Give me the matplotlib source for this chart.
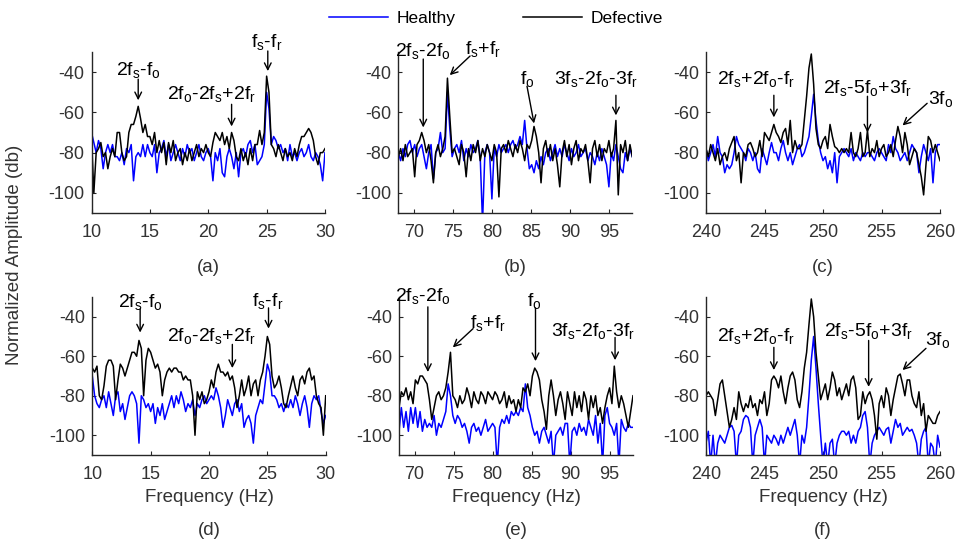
import numpy as np
import matplotlib
matplotlib.use("Agg")
import matplotlib.pyplot as plt
from matplotlib.lines import Line2D

plt.rcParams['font.family'] = ['Liberation Sans', 'DejaVu Sans']
plt.rcParams['mathtext.default'] = 'regular'
plt.rcParams['axes.unicode_minus'] = False

# frequency ranges of the six panels (Hz)
ranges = [(10, 30), (68, 98), (240, 260), (10, 30), (68, 98), (240, 260)]
xticks = [[10, 15, 20, 25, 30], [70, 75, 80, 85, 90, 95], [240, 245, 250, 255, 260]] * 2
panel_names = ['(a)', '(b)', '(c)', '(d)', '(e)', '(f)']

# normalized amplitude (db), evenly spaced over each range
a_healthy = [-70, -75, -80, -74, -78, -88, -80, -76, -80, -76,
             -82, -82, -84, -80, -86, -78, -80, -76, -94, -82,
             -80, -82, -76, -82, -76, -80, -82, -76, -90, -80,
             -78, -74, -82, -76, -84, -80, -76, -80, -84, -78,
             -82, -76, -80, -78, -84, -80, -76, -82, -84, -80,
             -78, -82, -94, -80, -84, -78, -90, -92, -82, -78,
             -82, -88, -80, -92, -80, -78, -82, -76, -74, -80,
             -76, -86, -84, -82, -76, -50, -58, -76, -72, -74,
             -78, -76, -80, -78, -84, -76, -82, -80, -84, -80,
             -78, -82, -80, -76, -82, -84, -80, -82, -86, -94,
             -80]
a_defective = [-72, -100, -80, -78, -75, -82, -80, -88, -82, -78,
               -82, -70, -70, -80, -84, -82, -70, -66, -66, -62,
               -57, -63, -70, -66, -72, -72, -76, -70, -80, -74,
               -80, -75, -86, -75, -80, -74, -84, -80, -78, -86,
               -80, -84, -78, -84, -80, -76, -82, -78, -80, -76,
               -80, -82, -75, -70, -72, -74, -70, -76, -72, -78,
               -70, -74, -82, -84, -78, -84, -80, -86, -78, -84,
               -76, -76, -69, -76, -70, -42, -50, -76, -78, -82,
               -76, -80, -84, -78, -82, -80, -84, -78, -82, -76,
               -72, -72, -70, -68, -70, -74, -82, -86, -80, -80,
               -78]

b_healthy = [-80, -84, -78, -82, -76, -74, -80, -76, -82, -78,
             -76, -82, -88, -80, -76, -93, -80, -78, -70, -80,
             -78, -50, -68, -82, -78, -76, -80, -74, -84, -78,
             -82, -76, -80, -78, -74, -82, -115, -80, -76, -80,
             -103, -78, -82, -76, -80, -78, -76, -80, -76, -74,
             -78, -76, -72, -76, -64, -78, -88, -86, -90, -84,
             -88, -82, -86, -80, -78, -84, -80, -76, -82, -78,
             -82, -76, -80, -84, -78, -82, -80, -76, -82, -80,
             -78, -84, -80, -82, -86, -80, -84, -78, -82, -86,
             -97, -80, -84, -76, -82, -88, -90, -80, -84, -78,
             -82]
b_defective = [-82, -78, -84, -76, -82, -80, -78, -92, -76, -74,
               -70, -74, -80, -76, -84, -95, -80, -76, -82, -78,
               -72, -43, -62, -80, -78, -82, -86, -76, -80, -92,
               -78, -84, -76, -80, -74, -84, -78, -82, -76, -80,
               -84, -76, -80, -102, -78, -76, -80, -74, -78, -82,
               -76, -80, -74, -78, -84, -76, -78, -74, -67, -72,
               -80, -95, -78, -74, -82, -76, -84, -78, -86, -97,
               -80, -74, -82, -76, -86, -78, -74, -84, -78, -80,
               -76, -84, -95, -78, -74, -82, -76, -84, -78, -80,
               -74, -82, -78, -64, -101, -76, -80, -74, -84, -76,
               -82]

c_healthy = [-78, -84, -80, -76, -82, -72, -80, -82, -90, -86,
             -88, -86, -80, -72, -76, -78, -80, -84, -78, -80,
             -84, -80, -88, -90, -78, -82, -86, -80, -75, -80,
             -80, -84, -78, -74, -80, -84, -80, -86, -82, -78,
             -76, -82, -80, -76, -72, -62, -51, -64, -74, -80,
             -84, -82, -88, -84, -90, -80, -95, -82, -80, -78,
             -80, -82, -78, -84, -80, -82, -84, -80, -82, -80,
             -80, -82, -84, -80, -78, -80, -82, -84, -76, -80,
             -72, -78, -80, -84, -82, -80, -84, -80, -76, -78,
             -80, -90, -82, -76, -80, -84, -78, -95, -80, -76,
             -76]
c_defective = [-78, -82, -76, -80, -84, -78, -86, -82, -80, -84,
               -78, -75, -72, -84, -80, -95, -80, -82, -76, -75,
               -78, -82, -80, -74, -82, -70, -72, -74, -70, -66,
               -70, -72, -75, -70, -68, -76, -64, -80, -74, -78,
               -78, -76, -64, -52, -38, -31, -46, -68, -76, -78,
               -74, -72, -78, -66, -72, -77, -78, -80, -78, -80,
               -78, -80, -70, -80, -82, -78, -70, -82, -80, -69,
               -82, -78, -80, -74, -82, -78, -76, -82, -80, -76,
               -82, -74, -67, -72, -80, -70, -76, -86, -82, -78,
               -80, -86, -92, -101, -86, -72, -74, -80, -76, -80,
               -84]

d_healthy = [-70, -80, -84, -86, -82, -80, -86, -78, -84, -90,
             -80, -78, -88, -84, -92, -86, -80, -78, -80, -84,
             -104, -80, -82, -86, -84, -88, -84, -94, -86, -90,
             -84, -92, -88, -84, -80, -86, -80, -84, -78, -82,
             -88, -84, -86, -82, -90, -84, -86, -82, -80, -84,
             -82, -80, -82, -76, -80, -86, -96, -90, -82, -86,
             -90, -84, -82, -88, -84, -96, -92, -90, -94, -104,
             -90, -86, -82, -84, -74, -64, -68, -80, -80, -82,
             -86, -84, -88, -84, -86, -82, -86, -80, -84, -90,
             -84, -80, -86, -96, -84, -80, -82, -80, -88, -94,
             -90]
d_defective = [-66, -68, -65, -80, -82, -75, -65, -62, -62, -65,
               -82, -72, -64, -66, -70, -66, -62, -58, -58, -60,
               -52, -56, -80, -62, -56, -58, -62, -66, -64, -68,
               -80, -72, -68, -66, -68, -66, -66, -68, -68, -72,
               -70, -72, -72, -80, -100, -78, -82, -78, -84, -82,
               -78, -72, -76, -68, -64, -68, -68, -70, -68, -72,
               -70, -76, -86, -80, -72, -80, -76, -70, -80, -74,
               -72, -80, -72, -68, -60, -50, -54, -70, -76, -74,
               -70, -76, -84, -86, -80, -75, -70, -76, -80, -72,
               -70, -74, -68, -66, -72, -70, -80, -84, -86, -100,
               -80]

e_healthy = [-98, -86, -96, -88, -98, -86, -94, -86, -96, -88,
             -98, -92, -96, -94, -96, -90, -100, -94, -96, -92,
             -88, -74, -80, -90, -94, -90, -92, -96, -94, -98,
             -104, -96, -94, -98, -96, -100, -96, -92, -98, -96,
             -94, -96, -115, -96, -92, -94, -90, -94, -88, -90,
             -88, -90, -86, -88, -74, -86, -90, -96, -100, -98,
             -104, -98, -96, -100, -104, -98, -115, -100, -98, -96,
             -100, -94, -94, -115, -98, -96, -100, -94, -98, -96,
             -100, -92, -96, -100, -90, -104, -94, -115, -90, -86,
             -94, -96, -100, -94, -115, -92, -96, -98, -94, -96,
             -96]
e_defective = [-86, -78, -80, -76, -82, -78, -84, -72, -74, -70,
               -70, -72, -74, -82, -92, -86, -80, -78, -82, -80,
               -76, -68, -58, -80, -82, -86, -80, -84, -82, -76,
               -80, -86, -78, -82, -84, -78, -80, -84, -78, -80,
               -82, -78, -80, -84, -82, -78, -86, -80, -84, -82,
               -88, -82, -86, -76, -78, -74, -80, -70, -66, -68,
               -72, -82, -88, -97, -80, -72, -80, -90, -82, -78,
               -84, -92, -78, -84, -90, -78, -86, -80, -88, -78,
               -82, -92, -80, -86, -80, -90, -86, -94, -86, -80,
               -76, -84, -65, -78, -86, -80, -84, -90, -96, -88,
               -80]

f_healthy = [-104, -98, -115, -100, -115, -104, -100, -102, -104, -100,
             -96, -95, -98, -115, -100, -98, -92, -90, -91, -96,
             -115, -100, -96, -92, -96, -115, -100, -102, -104, -100,
             -102, -105, -100, -104, -100, -96, -100, -96, -92, -100,
             -115, -100, -104, -96, -80, -62, -50, -66, -84, -100,
             -115, -104, -115, -104, -102, -115, -104, -100, -98, -98,
             -100, -98, -104, -100, -104, -98, -96, -90, -88, -96,
             -115, -104, -100, -98, -96, -98, -100, -97, -96, -104,
             -98, -92, -96, -94, -100, -98, -96, -98, -97, -100,
             -104, -115, -102, -98, -96, -115, -104, -106, -115, -100,
             -106]
f_defective = [-80, -78, -80, -82, -90, -82, -74, -72, -80, -88,
               -96, -92, -86, -92, -78, -84, -88, -84, -86, -80,
               -86, -84, -90, -82, -84, -78, -90, -84, -72, -70,
               -72, -76, -70, -78, -84, -76, -70, -68, -72, -82,
               -86, -78, -66, -58, -44, -31, -40, -58, -70, -82,
               -78, -74, -82, -76, -68, -72, -80, -76, -82, -78,
               -74, -80, -72, -70, -76, -92, -90, -78, -84, -80,
               -78, -82, -90, -102, -84, -80, -86, -76, -80, -90,
               -82, -76, -70, -69, -74, -80, -72, -72, -80, -84,
               -86, -78, -90, -84, -98, -90, -92, -94, -94, -90,
               -88]

healthy = [a_healthy, b_healthy, c_healthy, d_healthy, e_healthy, f_healthy]
defective = [a_defective, b_defective, c_defective, d_defective, e_defective, f_defective]

# (label, text position, arrow tail, arrow tip, text alignment)
notes = [
    [("2f$_s$-f$_o$", (14.0, -39), (14.0, -43.5), (14.0, -54), 'center'),
     ("2f$_o$-2f$_s$+2f$_r$", (20.3, -51), (22.0, -56), (22.0, -67), 'center'),
     ("f$_s$-f$_r$", (25.0, -25), (25.1, -29.5), (25.1, -39.5), 'center')],
    [("2f$_s$-2f$_o$", (71.2, -29.5), (71.2, -33.5), (71.2, -67.5), 'center'),
     ("f$_s$+f$_r$", (78.9, -28.5), (77.2, -32), (74.6, -41.5), 'center'),
     ("f$_o$", (84.5, -43.5), (84.5, -47), (85.4, -65.5), 'center'),
     ("3f$_s$-2f$_o$-3f$_r$", (93.3, -43.5), (95.9, -51.5), (95.9, -61.5), 'center')],
    [("2f$_s$+2f$_o$-f$_r$", (244.3, -43.5), (245.8, -51.5), (245.8, -62.5), 'center'),
     ("2f$_s$-5f$_o$+3f$_r$", (253.8, -48), (253.8, -52), (253.8, -70), 'center'),
     ("3f$_o$", (259.0, -53.5), (258.9, -55.5), (256.8, -66.5), 'left')],
    [("2f$_s$-f$_o$", (14.1, -32.3), (14.1, -36), (14.1, -48), 'center'),
     ("2f$_o$-2f$_s$+2f$_r$", (20.25, -49.5), (22.0, -54), (22.0, -66), 'center'),
     ("f$_s$-f$_r$", (25.05, -32), (25.1, -35.5), (25.1, -46), 'center')],
    [("2f$_s$-2f$_o$", (71.0, -29.5), (71.7, -35), (71.7, -68), 'center'),
     ("f$_s$+f$_r$", (79.4, -43), (77.5, -46), (74.9, -55.5), 'center'),
     ("f$_o$", (85.4, -32), (85.5, -35.5), (85.5, -62.5), 'center'),
     ("3f$_s$-2f$_o$-3f$_r$", (92.9, -47), (95.7, -50.5), (95.7, -62), 'center')],
    [("2f$_s$+2f$_o$-f$_r$", (244.3, -49.5), (245.8, -55.5), (245.8, -67), 'center'),
     ("2f$_s$-5f$_o$+3f$_r$", (253.9, -47), (253.9, -52), (253.9, -75.5), 'center'),
     ("3f$_o$", (258.7, -52), (258.8, -56), (256.8, -67), 'left')],
]

fig = plt.figure(figsize=(9.58, 5.46), dpi=100)
boxes = [(91.5, 52, 325, 213), (398.3, 52, 632.3, 213), (706, 52, 940, 213),
         (92.3, 297, 325.7, 455), (399, 297, 633, 455), (706, 297, 940, 455)]
gray = '#262626'

for i in range(6):
    l, t, r, b = boxes[i]
    ax = fig.add_axes([l / 958, 1 - b / 546, (r - l) / 958, (b - t) / 546])
    lo, hi = ranges[i]
    f1 = np.linspace(lo, hi, len(healthy[i]))
    f2 = np.linspace(lo, hi, len(defective[i]))
    ax.plot(f1, healthy[i], color='#0000ff', lw=1.1)
    ax.plot(f2, defective[i], color='black', lw=1.1)
    ax.set_xlim(lo, hi)
    ax.set_ylim(-110, -30)
    ax.set_xticks(xticks[i])
    ax.set_yticks([-100, -80, -60, -40])
    for s in ['top', 'right']:
        ax.spines[s].set_visible(False)
    for s in ['left', 'bottom']:
        ax.spines[s].set_color(gray)
        ax.spines[s].set_linewidth(1.0)
    ax.tick_params(direction='in', length=3, width=0.8, colors=gray,
                   labelsize=13, labelcolor='#333333')
    ax.tick_params(axis='x', pad=8)
    ax.tick_params(axis='y', pad=5)
    for label, txy, tail, tip, ha in notes[i]:
        ax.text(txy[0], txy[1], label, ha=ha, va='center', fontsize=14)
        ax.annotate('', xy=tip, xytext=tail, annotation_clip=False,
                    arrowprops=dict(arrowstyle='->', color='black', lw=1.0,
                                    shrinkA=0, shrinkB=0, mutation_scale=12))
    if i >= 3:
        ax.text(0.5, -0.266, 'Frequency (Hz)', transform=ax.transAxes,
                ha='center', va='center', fontsize=13.5, color='#333333')
        ax.text(0.5, -0.475, panel_names[i], transform=ax.transAxes,
                ha='center', va='center', fontsize=13.5, color='#333333')
    else:
        ax.text(0.5, -0.34, panel_names[i], transform=ax.transAxes,
                ha='center', va='center', fontsize=13.5, color='#333333')

fig.text(15 / 958, 1 - 255 / 546, 'Normalized Amplitude (db)', rotation=90,
         ha='center', va='center', fontsize=13.5, color='#333333')

handles = [Line2D([], [], color='#0000ff', lw=1.1), Line2D([], [], color='black', lw=1.1)]
fig.legend(handles, ['Healthy', 'Defective'], loc='center', ncol=2, frameon=False,
           bbox_to_anchor=(496 / 958, 1 - 18 / 546), fontsize=12.5,
           handlelength=3.4, handletextpad=0.5, columnspacing=3.9)

fig.savefig('out.png', dpi=100)
